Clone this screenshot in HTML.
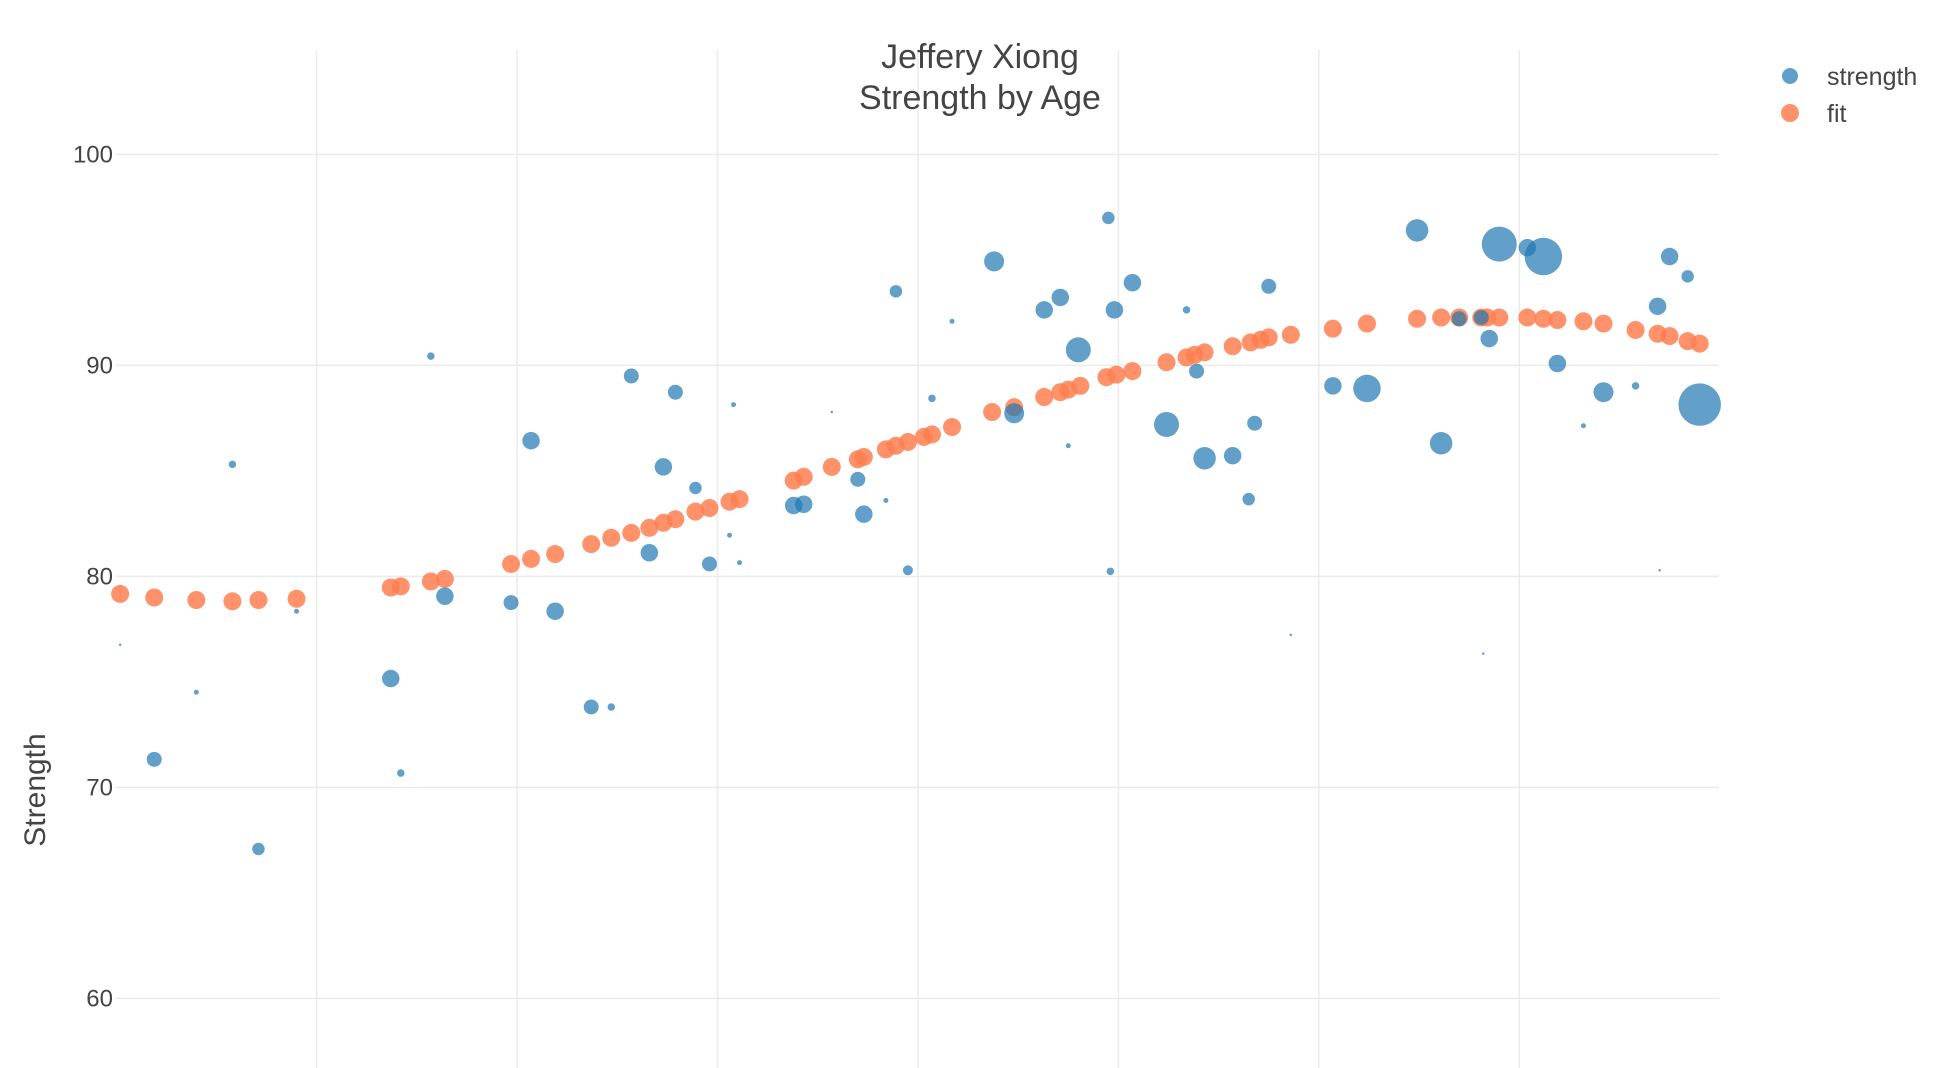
<!DOCTYPE html>
<html><head><meta charset="utf-8"><style>
html,body{margin:0;padding:0;background:#fff;}
svg{display:block;font-family:"Liberation Sans",sans-serif;}
</style></head><body>
<svg id="chart" width="1952" height="1068" viewBox="0 0 1952 1068" xmlns="http://www.w3.org/2000/svg">
<g id="grid"></g>
<g id="yticks"></g>
<g id="fitg"></g>
<g id="strg"></g>
<text x="980" y="68" text-anchor="middle" font-size="34" fill="#444">Jeffery Xiong</text>
<text x="980" y="109" text-anchor="middle" font-size="34" fill="#444">Strength by Age</text>
<text transform="translate(45,790) rotate(-90)" text-anchor="middle" font-size="30" fill="#444">Strength</text>
<g>
<circle cx="1790" cy="76" r="8" fill="#1f77b4" fill-opacity="0.7"/>
<text x="1827" y="85" font-size="25" fill="#444">strength</text>
<circle cx="1790" cy="113" r="9" fill="#ff7f50" fill-opacity="0.85"/>
<text x="1827" y="122" font-size="25" fill="#444">fit</text>
</g>
</svg>
<script>
const yTicks=[60,70,80,90,100];
const xGrid=[1,2,3,4,5,6,7];
const fitAge=[0.02,0.19,0.40,0.58,0.71,0.90,1.37,1.42,1.57,1.64,1.97,2.07,2.19,2.37,2.47,2.57,2.66,2.73,2.79,2.89,2.96,3.06,3.11,3.38,3.43,3.57,3.70,3.73,3.84,3.89,3.95,4.03,4.07,4.17,4.37,4.48,4.63,4.71,4.75,4.81,4.94,4.99,5.07,5.24,5.34,5.38,5.43,5.57,5.66,5.71,5.75,5.86,6.07,6.24,6.49,6.61,6.70,6.81,6.84,6.90,7.04,7.12,7.19,7.32,7.42,7.58,7.69,7.75,7.84,7.90];
const fitVal=[79.17,79.0,78.88,78.82,78.88,78.94,79.47,79.53,79.76,79.88,80.59,80.83,81.06,81.53,81.83,82.06,82.30,82.54,82.71,83.07,83.24,83.54,83.66,84.54,84.72,85.19,85.55,85.66,86.02,86.19,86.37,86.61,86.73,87.08,87.79,88.02,88.50,88.73,88.85,89.03,89.44,89.56,89.73,90.15,90.38,90.50,90.62,90.91,91.09,91.21,91.33,91.45,91.74,91.98,92.21,92.27,92.27,92.27,92.27,92.27,92.27,92.21,92.15,92.09,91.98,91.68,91.50,91.39,91.15,91.03];
const strAge=[0.02,0.19,0.40,0.58,0.71,0.90,1.37,1.42,1.57,1.64,1.97,2.07,2.19,2.37,2.47,2.57,2.66,2.73,2.79,2.89,2.96,3.06,3.08,3.11,3.38,3.43,3.57,3.70,3.73,3.84,3.89,3.95,4.07,4.17,4.38,4.48,4.63,4.71,4.75,4.80,4.95,4.96,4.98,5.07,5.24,5.34,5.39,5.43,5.57,5.65,5.68,5.75,5.86,6.07,6.24,6.49,6.61,6.70,6.81,6.82,6.85,6.90,7.04,7.12,7.19,7.32,7.42,7.58,7.69,7.70,7.75,7.84,7.90];
const strVal=[76.76,71.33,74.51,85.31,67.08,78.35,75.16,70.68,90.44,79.06,78.76,86.43,78.35,73.81,73.81,89.50,81.12,85.19,88.73,84.19,80.59,81.95,88.14,80.65,83.36,83.42,87.79,84.60,82.95,83.60,93.51,80.29,88.44,92.09,94.93,87.73,92.63,93.22,86.19,90.74,96.99,80.24,92.63,93.92,87.20,92.63,89.73,85.60,85.72,83.66,87.26,93.75,77.23,89.03,88.91,96.40,86.31,92.21,92.27,76.34,91.27,95.75,95.58,95.16,90.09,87.14,88.73,89.03,92.80,80.29,95.16,94.22,88.14];
const strSize=[1,6,2,3,5,2,7,3,3,7,6,7,7,6,3,6,7,7,6,5,6,2,2,2,7,7,1,6,7,2,5,4,3,2,8,8,7,7,2,10,5,3,7,7,10,3,6,9,7,5,6,6,1,7,11,9,9,6,6,1,7,14,7,15,7,2,8,3,7,1,7,5,17];
const NS='http://www.w3.org/2000/svg';
function X(a){return 116.15+a*200.45;}
function Y(v){return 154.4+(100-v)*21.1;}
function R(s){return s*1.25;}
const grid=document.getElementById('grid');
yTicks.forEach(t=>{
  const l=document.createElementNS(NS,'line');
  
  
  l.setAttribute('x1',116);l.setAttribute('x2',1719);l.setAttribute('y1',Y(t));l.setAttribute('y2',Y(t));
  l.setAttribute('stroke','#ebebeb');l.setAttribute('stroke-width','1.5');
  grid.appendChild(l);
  const tx=document.createElementNS(NS,'text');
  
  
  tx.setAttribute('x',113);tx.setAttribute('y',Y(t)+8);tx.setAttribute('text-anchor','end');
  tx.setAttribute('font-size','24');tx.setAttribute('fill','#444');tx.textContent=t;
  document.getElementById('yticks').appendChild(tx);
});
xGrid.forEach(g=>{
  const l=document.createElementNS(NS,'line');
  
  
  l.setAttribute('x1',X(g));l.setAttribute('x2',X(g));l.setAttribute('y1',50);l.setAttribute('y2',1068);
  l.setAttribute('stroke','#ebebeb');l.setAttribute('stroke-width','1.5');
  grid.appendChild(l);
});
const fg=document.getElementById('fitg');
fitAge.forEach((a,i)=>{
  const c=document.createElementNS(NS,'circle');
  
  
  c.setAttribute('cx',X(a));c.setAttribute('cy',Y(fitVal[i]));c.setAttribute('r',9);
  c.setAttribute('fill','#ff7f50');c.setAttribute('fill-opacity','0.85');
  fg.appendChild(c);
});
const sg=document.getElementById('strg');
strAge.forEach((a,i)=>{
  const c=document.createElementNS(NS,'circle');
  
  
  c.setAttribute('cx',X(a));c.setAttribute('cy',Y(strVal[i]));c.setAttribute('r',R(strSize[i]));
  c.setAttribute('fill','#1f77b4');c.setAttribute('fill-opacity','0.7');
  sg.appendChild(c);
});
</script>
</body></html>
